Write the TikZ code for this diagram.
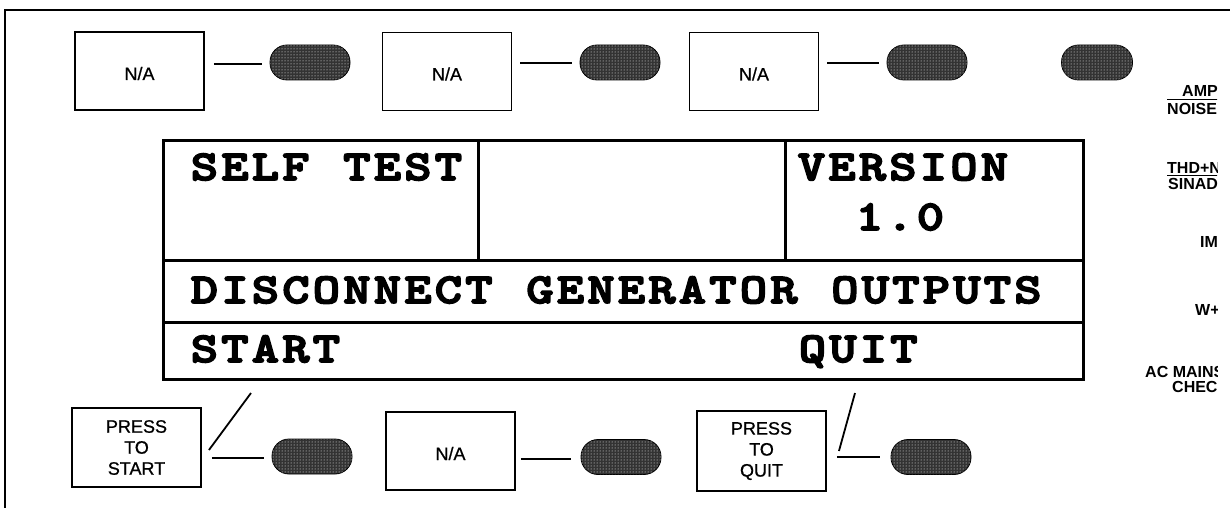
\documentclass[tikz,border=0pt]{standalone}
\usepackage{fontspec}
\usetikzlibrary{patterns}
\newfontfamily\keyfont{Liberation Sans}[FakeBold=0.8]
\newfontfamily\sidefont{Liberation Sans Bold}
\newfontfamily\lcdfont{lmmonolt10-bold.otf}[FakeStretch=1.22,FakeBold=4]

% every display character sits in a cell of fixed pitch
\ExplSyntaxOn
\NewDocumentCommand\lcdline{m}{ \tl_map_inline:nn {#1} { \makebox[30.5pt][c]{##1} } }
\ExplSyntaxOff

\begin{document}
\begin{tikzpicture}[x=1pt,y=-1pt,
  keybox/.style={draw, line width=1.9pt, minimum width=129pt, minimum height=78pt,
    inner sep=0pt, align=center, font=\keyfont\fontsize{18}{21}\selectfont},
  natext/.style={text height=18pt, text depth=0pt},
  pill/.style={draw, line width=0.8pt, rounded corners=17pt, minimum width=80pt,
    minimum height=35pt, inner sep=0pt, fill=black!80,
    postaction={pattern=dots, pattern color=white}},
  wire/.style={line width=1.8pt},
  lcd/.style={inner sep=0pt, anchor=base west,
    font=\lcdfont\fontsize{42.5}{44}\selectfont},
  side/.style={inner sep=0pt, anchor=base west,
    font=\sidefont\fontsize{16}{18}\selectfont},
  rule/.style={line width=1.1pt},
  panel/.style={line width=3pt}]

\useasboundingbox (0,0) rectangle (1230,508);

% front-panel frame
\draw[line width=2.2pt] (5,508) -- (5,10) -- (1230,10);

% upper soft keys
\node[keybox, natext] (k1) at (139.5,71) {N/A};
\node[keybox, natext] (k2) at (447,71.5) {N/A};
\node[keybox, natext] (k3) at (754,71.5) {N/A};
\node[pill] (p1) at (310,62.5) {};
\node[pill] (p2) at (620,62.5) {};
\node[pill] (p3) at (927,62.5) {};
\node[pill, minimum width=71pt] (p4) at (1097,62.5) {};
\draw[wire, shorten <=9pt, shorten >=8pt] (k1.east |- 0,64) -- (p1.west |- 0,64);
\draw[wire, shorten <=8pt, shorten >=8pt] (k2.east |- 0,63) -- (p2.west |- 0,63);
\draw[wire, shorten <=8pt, shorten >=8pt] (k3.east |- 0,63) -- (p3.west |- 0,63);

% display
\draw[panel] (163,140) rectangle (1083,379);
\draw[panel] (163,260) -- (1083,260);
\draw[panel] (163,322) -- (1083,322);
\draw[panel] (478,140) -- (478,260);
\draw[panel] (785,140) -- (785,260);

\node[lcd] (selftest) at (189,180) {\lcdline{SELF~TEST}};
\node[lcd] (version) at (796,180) {\lcdline{VERSION}};
\node[lcd] (vnum) at (854,230) {\lcdline{1.0}};
\node[lcd] (msg) at (189,303) {\lcdline{DISCONNECT~GENERATOR~OUTPUTS}};
\node[lcd] (start) at (189,362) {\lcdline{START}};
\node[lcd] (quit) at (797,362) {\lcdline{QUIT}};

% lower soft keys
\node[keybox, minimum height=79pt] (b1) at (136.5,447.5) {PRESS\\TO\\START};
\node[keybox, natext] (b2) at (450.5,451) {N/A};
\node[keybox, minimum height=80pt] (b3) at (761.5,451) {PRESS\\TO\\QUIT};
\node[pill] (q1) at (312,456.5) {};
\node[pill] (q2) at (621,457) {};
\node[pill] (q3) at (931,457) {};
\draw[wire, shorten <=10pt, shorten >=8pt] (b1.east |- 0,458) -- (q1.west |- 0,458);
\draw[wire, shorten <=5pt, shorten >=10pt] (b2.east |- 0,459) -- (q2.west |- 0,459);
\draw[wire, shorten <=10pt, shorten >=11pt] (b3.east |- 0,457) -- (q3.west |- 0,457);

% pointers from the soft-key labels to their keys
\coordinate (startptr) at (251,393);
\coordinate (quitptr) at (855,393);
\draw[wire] ([shift={(7,2.5)}]b1.east) -- (startptr);
\draw[wire] ([shift={(12,0)}]b3.east) -- (quitptr);

% function labels along the right edge
\begin{scope}
  \clip (1130,70) rectangle (1217,400);
  \node[side] (amp) at (1182,97) {AMP};
  \draw[rule] (1167,99.5) -- (1230,99.5);
  \node[side] (noise) at (1167,114) {NOISE};
  \node[side] (thd) at (1167,173) {THD+N};
  \draw[rule] (1167,175.5) -- (1230,175.5);
  \node[side] (sinad) at (1168,189) {SINAD};
  \node[side] (im) at (1200,247) {IM};
  \node[side] (wf) at (1195,315) {W+};
  \node[side] (mains) at (1145,377) {AC MAINS};
  \node[side] (check) at (1172,392) {CHECK};
\end{scope}
\end{tikzpicture}
\end{document}
